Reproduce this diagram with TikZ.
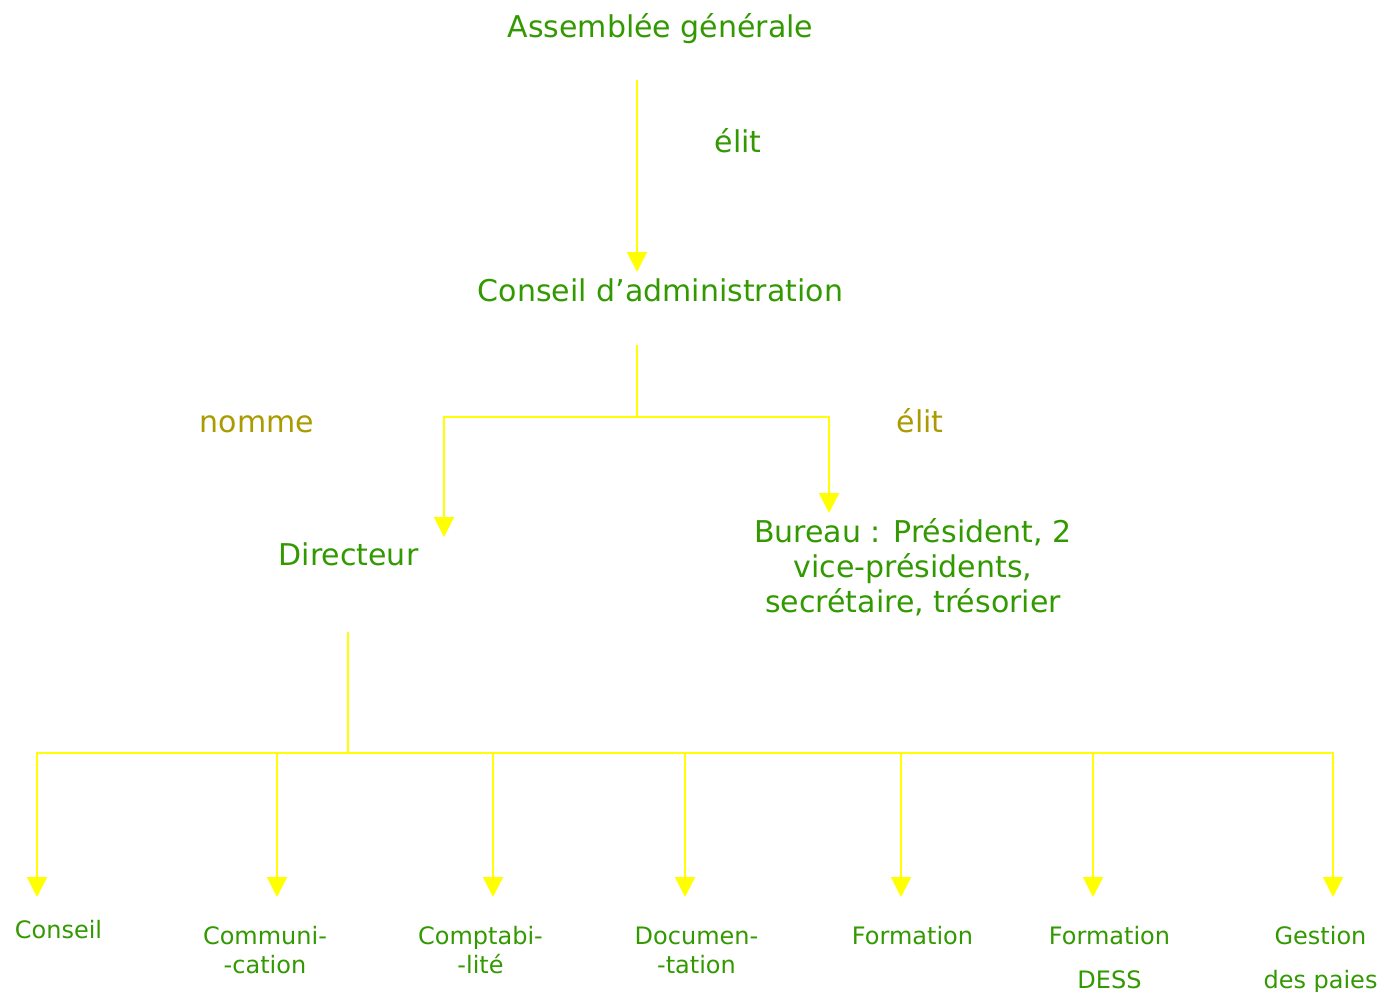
\documentclass[tikz,border=0pt]{standalone}
\usepackage{fontspec}
\setmainfont{DejaVu Sans}
\usetikzlibrary{arrows.meta}
\definecolor{txtgreen}{RGB}{51,153,0}
\definecolor{txtolive}{RGB}{170,155,0}
\definecolor{lnyellow}{RGB}{255,255,0}
\tikzset{
  big/.style={font=\fontsize{30}{35}\selectfont, text=txtgreen, inner sep=0pt, anchor=base, align=center},
  lab/.style={font=\fontsize{30}{35}\selectfont, text=txtolive, inner sep=0pt, anchor=base},
  small/.style={font=\fontsize{24}{29}\selectfont, text=txtgreen, inner sep=0pt, anchor=base, align=center},
  smallwide/.style={font=\fontsize{24}{44}\selectfont, text=txtgreen, inner sep=0pt, anchor=base, align=center},
  conn/.style={draw=lnyellow, line width=2pt},
  arr/.style={conn, -{Triangle[width=20pt,length=20pt]}}
}
\begin{document}
\begin{tikzpicture}[x=1pt,y=-1pt]
\useasboundingbox[fill=white] (0,0) rectangle (1383,991);
% texts (multi-line nodes are placed by the baseline of their last line)
\node[big] (ag) at (660.5,37) {Assemblée générale};
\node[big] (elit1) at (738,152) {élit};
\node[big] (ca) at (660.5,301) {Conseil d’administration};
\node[lab] (nomme) at (257,432) {nomme};
\node[lab] (elit2) at (920,432) {élit};
\node[big] (dir) at (348.5,565) {Directeur};
\node[big] (bur) at (913,612) {Bureau : Président, 2\\vice-présidents,\\secrétaire, trésorier};
\node[small] (s1) at (58.5,938) {Conseil};
\node[small] (s2) at (265,973) {Communi-\\-cation};
\node[small] (s3) at (480.5,973) {Comptabi-\\-lité};
\node[small] (s4) at (696.5,973) {Documen-\\-tation};
\node[small] (s5) at (912.5,944) {Formation};
\node[smallwide] (s6) at (1109.5,988) {Formation\\DESS};
\node[smallwide] (s7) at (1320.5,988) {Gestion\\des paies};
% connector points
\coordinate (agout) at (637,80);
\coordinate (cain) at (637,272);
\coordinate (caout) at (637,345);
\coordinate (j1) at (637,417);
\coordinate (dirin) at (444,537);
\coordinate (burin) at (829,513);
\coordinate (dirout) at (348,632);
\coordinate (j2) at (348,753);
\coordinate (in1) at (37,897);
\coordinate (in2) at (277,897);
\coordinate (in3) at (493,897);
\coordinate (in4) at (685,897);
\coordinate (in5) at (901,897);
\coordinate (in6) at (1093,897);
\coordinate (in7) at (1333,897);
% connectors
\draw[arr] (agout) -- (cain);
\draw[conn] (caout) -- (j1);
\draw[arr] (j1) -| (dirin);
\draw[arr] (j1) -| (burin);
\draw[conn] (dirout) -- (j2);
\foreach \t in {in1,in2,in3,in4,in5,in6,in7}{
  \draw[arr] (j2) -| (\t);
}
\end{tikzpicture}
\end{document}
